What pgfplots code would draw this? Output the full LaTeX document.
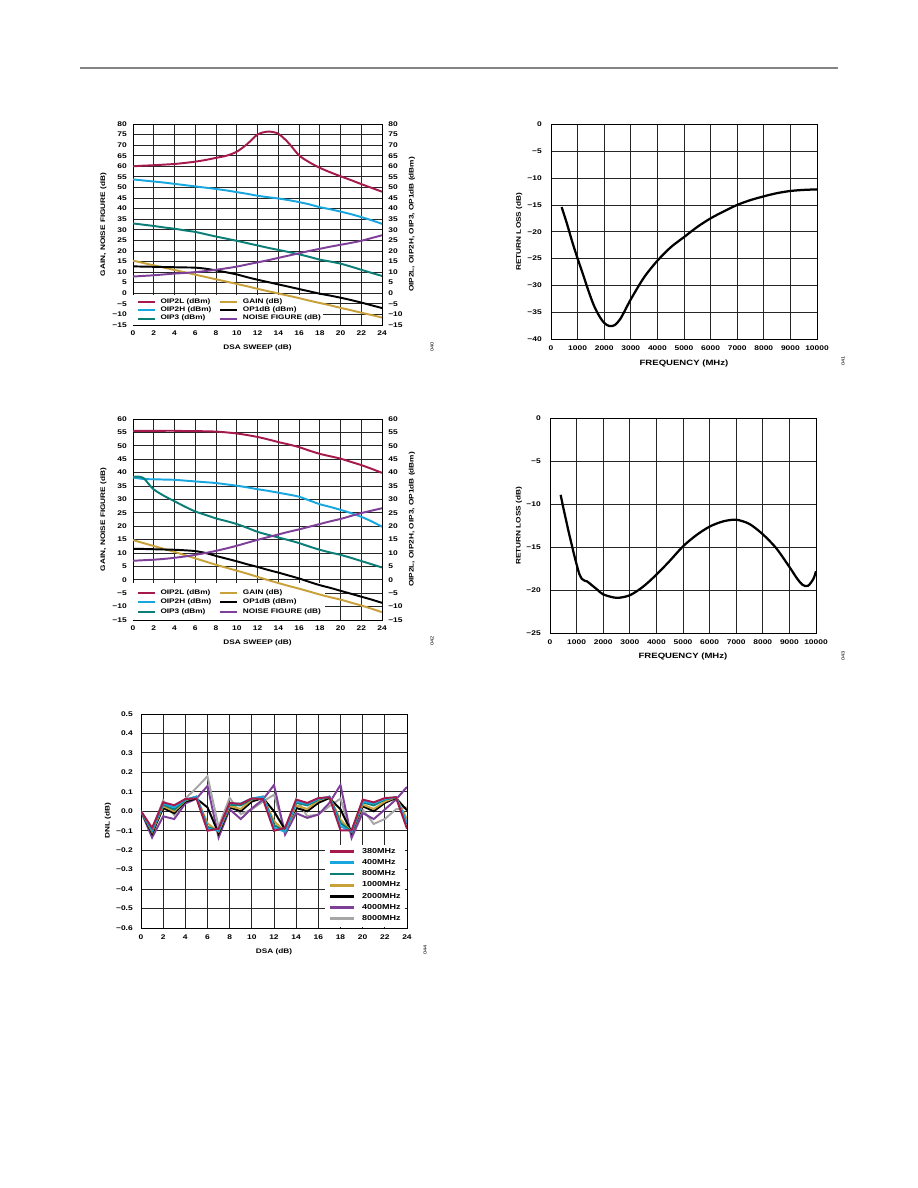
\documentclass[border=0pt]{standalone}
\usepackage{pgfplots}
\pgfplotsset{compat=1.18}
\usepackage{pgfplotstable}
\usepackage{fontspec}
\newfontfamily\cf{Liberation Sans}[FakeStretch=1.25]

\newcommand\tickf{\cf\bfseries\fontsize{4.5}{5}\selectfont}
\newcommand\labf{\cf\bfseries\fontsize{4.4}{5}\selectfont}
\newcommand\labfb{\cf\bfseries\fontsize{5.1}{6}\selectfont}
\newcommand\legf{\cf\bfseries\fontsize{4.4}{5}\selectfont}
\newcommand\legfb{\cf\bfseries\fontsize{4.8}{5.5}\selectfont}

\definecolor{cOIPL}{HTML}{A6194C}
\definecolor{cOIPH}{HTML}{18A6DF}
\definecolor{cOIPT}{HTML}{0B7E76}
\definecolor{cGain}{HTML}{C9A13A}
\definecolor{cNF}{HTML}{7E3F98}
\definecolor{cGrey}{HTML}{A6A6A6}
\definecolor{hdr}{HTML}{858585}

% DSA sweep, first operating point
\pgfplotstableread{
x  oipl  oiph  oipt  gain   opdb  nf
0  60.0  53.8  33.0  15.4   12.7   7.9
1  60.3  53.3  32.4  14.3   12.6   8.2
2  60.5  52.8  31.8  13.2   12.5   8.5
3  60.8  52.3  31.1  12.1   12.4   8.9
4  61.1  51.7  30.5  11.0   12.3   9.3
5  61.6  51.1  29.7   9.9   12.2   9.6
6  62.2  50.5  29.0   8.8   12.1  10.0
7  63.0  49.9  27.9   7.7   11.6  10.5
8  64.0  49.3  26.8   6.6   10.8  11.1
9  65.0  48.6  25.8   5.5    9.9  11.8
10 66.9  47.8  24.8   4.4    8.9  12.6
11 70.5  47.0  23.7   3.3    7.6  13.6
12 75.0  46.1  22.6   2.1    6.4  14.6
13 76.4  45.4  21.5   1.0    5.3  15.6
14 75.4  44.8  20.5  -0.1    4.2  16.7
15 71.0  44.0  19.5  -1.2    3.1  17.8
16 65.2  43.1  18.4  -2.3    2.0  18.9
17 61.9  42.0  17.2  -3.5    0.9  20.0
18 59.3  40.7  15.9  -4.6   -0.2  21.0
19 57.2  39.7  15.0  -5.7   -1.1  22.0
20 55.3  38.6  14.0  -6.9   -2.1  22.9
21 53.5  37.4  12.6  -8.0   -3.2  23.8
22 51.6  36.0  11.1  -9.2   -4.4  24.8
23 49.8  34.5   9.6 -10.3   -5.7  26.1
24 48.0  32.8   8.2 -11.5   -7.0  27.4
}\tabA

% DSA sweep, second operating point
\pgfplotstableread{
x  oipl  oiph  gain   opdb  nf
0  55.6  38.2  14.8  11.5   7.1
1  55.6  37.6  13.7  11.5   7.3
2  55.6  37.5  12.6  11.4   7.5
3  55.6  37.4  11.5  11.3   7.8
4  55.6  37.3  10.4  11.2   8.2
5  55.5  37.0   9.2  11.0   8.7
6  55.5  36.7   8.0  10.7   9.3
7  55.4  36.4   6.8  10.0  10.0
8  55.3  36.1   5.6   8.9  10.8
9  55.0  35.6   4.5   7.9  11.7
10 54.6  35.1   3.4   6.9  12.7
11 54.0  34.5   2.3   5.8  13.8
12 53.3  33.8   1.1   4.8  14.9
13 52.4  33.2  -0.1   3.7  15.9
14 51.4  32.5  -1.2   2.7  16.9
15 50.5  31.8  -2.3   1.6  17.9
16 49.5  31.0  -3.3   0.5  18.8
17 48.2  29.6  -4.4  -0.8  19.8
18 47.0  28.2  -5.5  -2.0  20.8
19 46.1  27.2  -6.5  -3.0  21.8
20 45.2  26.1  -7.4  -4.1  22.7
21 44.0  24.9  -8.5  -5.2  23.8
22 42.8  23.5  -9.6  -6.3  24.9
23 41.4  21.8 -10.8  -7.4  25.8
24 39.9  19.8 -12.1  -8.6  26.7
}\tabB

\pgfplotstableread{
x    oipt
0    38.4
0.5  38.5
1    38.0
1.5  35.8
2    33.7
3    31.3
4    29.3
5    27.3
6    25.5
7    24.2
8    22.9
9    21.9
10   20.8
11   19.4
12   17.9
13   16.8
14   15.8
15   14.8
16   13.7
17   12.4
18   11.2
19   10.2
20    9.3
21    8.2
22    7.0
23    5.8
24    4.6
}\tabBt

% Return loss, first port
\pgfplotstableread{
f     rl
400   -15.4
600   -18.5
800   -21.9
1000  -25.0
1200  -27.9
1400  -30.9
1600  -33.6
1800  -35.6
2000  -37.0
2200  -37.6
2400  -37.4
2600  -36.3
2800  -34.5
3000  -32.6
3500  -28.5
4000  -25.4
4500  -22.9
5000  -21.0
5500  -19.1
6000  -17.5
6500  -16.2
7000  -15.0
7500  -14.1
8000  -13.4
8500  -12.8
9000  -12.4
9500  -12.2
10000 -12.1
}\tabC

% Return loss, second port
\pgfplotstableread{
f     rl
400   -8.9
500   -10.4
600   -11.8
700   -13.2
800   -14.5
900   -15.8
1000  -17.0
1100  -18.1
1200  -18.7
1300  -18.9
1400  -19.0
1600  -19.5
1800  -20.0
2000  -20.5
2500  -20.9
3000  -20.6
3500  -19.6
4000  -18.2
4500  -16.6
5000  -14.9
5500  -13.6
6000  -12.6
6500  -12.0
7000  -11.8
7500  -12.3
8000  -13.5
8500  -15.1
9000  -17.3
9300  -18.7
9500  -19.4
9700  -19.5
9900  -18.7
10000 -17.8
}\tabD

% DNL versus DSA setting
\pgfplotstableread{
x  a      b      c      d      e      g      h
0  0      0      0      0      0      0      0
1  -0.085 -0.095 -0.100 -0.105 -0.115 -0.135 -0.095
2  0.046  0.040  0.034  0.026  0.017  -0.026 0.056
3  0.031  0.020  0.009  0.000  -0.010 -0.040 -0.020
4  0.063  0.060  0.058  0.055  0.050  0.040  0.065
5  0.066  0.075  0.075  0.075  0.065  0.065  0.120
6  -0.100 -0.090 -0.080 -0.062 0.020  0.130  0.180
7  -0.090 -0.100 -0.100 -0.105 -0.115 -0.135 -0.080
8  0.043  0.040  0.034  0.026  0.020  0.010  0.070
9  0.038  0.040  0.030  0.012  0.000  -0.040 -0.015
10 0.066  0.066  0.063  0.060  0.050  0.015  0.010
11 0.063  0.075  0.075  0.075  0.068  0.060  0.050
12 -0.100 -0.085 -0.070 -0.050 0.000  0.135  0.085
13 -0.085 -0.105 -0.105 -0.105 -0.095 -0.120 -0.100
14 0.060  0.050  0.045  0.030  0.017  -0.010 0.063
15 0.043  0.038  0.030  0.012  0.000  -0.034 -0.025
16 0.068  0.063  0.060  0.055  0.043  -0.017 -0.017
17 0.072  0.075  0.075  0.075  0.068  0.043  0.026
18 -0.098 -0.077 -0.060 -0.043 0.010  0.135  0.065
19 -0.098 -0.105 -0.105 -0.105 -0.110 -0.137 -0.120
20 0.060  0.050  0.046  0.034  0.026  -0.009 0.009
21 0.046  0.040  0.030  0.012  0.000  -0.040 -0.065
22 0.068  0.063  0.060  0.050  0.043  0.009  -0.040
23 0.072  0.072  0.072  0.072  0.068  0.060  0.010
24 -0.090 -0.060 -0.065 -0.040 0.005  0.125  0.020
}\tabE

\pgfplotsset{
  base/.style={
    scale only axis, anchor=south west,
    grid=major, major grid style={line width=0.55pt, black!85},
    axis line style={line width=0.6pt, black},
    major tick length=0pt,
    /pgf/number format/assume math mode=true,
    /pgf/number format/1000 sep={},
    scaled x ticks=false, scaled y ticks=false,
    tick label style={font=\tickf, inner sep=0pt},
    legend style={font=\legf, fill=white, draw=none},
    legend cell align=left,
  },
  dsa/.style={
    base, width=166pt, height=134pt, xmin=0, xmax=24,
    xtick={0,2,...,24},
    xticklabel style={yshift=-3.8pt},
    yticklabel style={xshift=-4pt},
    xlabel={DSA SWEEP (dB)},
    ylabel={GAIN, NOISE FIGURE (dB)},
    every axis y label/.style={at={(axis description cs:-0.119,0.5)}, rotate=90, anchor=center, font=\labf},
    legend columns=2,
    legend style={at={(axis description cs:0,0)}, anchor=south west, fill=none,
      inner xsep=2.2pt, inner ysep=2.4pt, row sep=0pt,
      nodes={inner sep=0.55pt},
      /tikz/every odd column/.append style={column sep=2.5pt},
      /tikz/every even column/.append style={column sep=4.5pt}},
    legend image code/.code={\draw[##1, line width=1.4pt] (0pt,0pt) -- (11.5pt,0pt);},
  },
  dsaright/.style={
    base, width=166pt, height=134pt, xmin=0, xmax=24,
    axis x line=none, axis y line*=right, grid=none,
    yticklabel style={xshift=4pt},
    ylabel={OIP2L, OIP2H, OIP3, OP1dB (dBm)},
    every axis y label/.style={at={(axis description cs:1.1205,0.5)}, rotate=90, anchor=center, font=\labf},
  },
  rloss/.style={
    base, width=177.33pt, height=143pt, xmin=0, xmax=10000,
    xtick={0,1000,...,10000},
    xticklabel style={yshift=-4.5pt},
    yticklabel style={xshift=-6pt},
    xlabel={FREQUENCY (MHz)}, ylabel={RETURN LOSS (dB)},
  },
  rlcurve/.style={black, no markers, smooth, line width=1.5pt},
  curve/.style={#1, smooth, line width=1.3pt},
  keybg/.style={draw=none, fill=white, forget plot},
}

\begin{document}
\begin{tikzpicture}
\path[use as bounding box] (0,0) rectangle (612pt,792pt);
\draw[line width=0.9pt, hdr] (53.3pt,746.7pt) -- (558.7pt,746.7pt);

%--------------------------------------------------------- DSA sweep 1
\begin{axis}[dsa, at={(88.67pt,575.33pt)}, ymin=-15, ymax=80,
  ytick={-15,-10,...,80},
  yticklabels={−15,−10,−5,0,5,10,15,20,25,30,35,40,45,50,55,60,65,70,75,80},
  every axis x label/.style={at={(axis description cs:0.5,-0.114)}, anchor=center, font=\labf},
  legend style={row sep=-0.25pt, yshift=-1.2pt}]
% blank panel behind the key, under the curves
\addplot[keybg] coordinates {(0,-15) (18.35,-15) (18.35,-0.7) (0,-0.7)} -- cycle;
\addplot[curve=cOIPL] table[x=x, y=oipl] {\tabA};
\addlegendentry{OIP2L (dBm)}
\addplot[curve=cGain] table[x=x, y=gain] {\tabA};
\addlegendentry{GAIN (dB)}
\addplot[curve=cOIPH] table[x=x, y=oiph] {\tabA};
\addlegendentry{OIP2H (dBm)}
\addplot[curve=black] table[x=x, y=opdb] {\tabA};
\addlegendentry{OP1dB (dBm)}
\addplot[curve=cOIPT] table[x=x, y=oipt] {\tabA};
\addlegendentry{OIP3 (dBm)}
\addplot[curve=cNF] table[x=x, y=nf] {\tabA};
\addlegendentry{NOISE FIGURE (dB)}
\end{axis}
\begin{axis}[dsaright, at={(88.67pt,575.33pt)}, ymin=-15, ymax=80,
  ytick={-15,-10,...,80},
  yticklabels={−15,−10,−5,0,5,10,15,20,25,30,35,40,45,50,55,60,65,70,75,80}]
\addplot[draw=none] coordinates {(0,0)};
\end{axis}

%--------------------------------------------------------- return loss 1
\begin{axis}[rloss, at={(367.33pt,566pt)}, ymin=-40, ymax=0,
  ytick={-40,-35,...,0},
  yticklabels={−40,−35,−30,−25,−20,−15,−10,−5,0},
  every axis x label/.style={at={(axis description cs:0.5,-0.116)}, anchor=center, font=\labfb},
  every axis y label/.style={at={(axis description cs:-0.120,0.5)}, rotate=90, anchor=center, font=\labf}]
\addplot[rlcurve] table[x=f, y=rl] {\tabC};
\end{axis}

%--------------------------------------------------------- DSA sweep 2
\begin{axis}[dsa, at={(88.67pt,378.67pt)}, ymin=-15, ymax=60,
  ytick={-15,-10,...,60},
  yticklabels={−15,−10,−5,0,5,10,15,20,25,30,35,40,45,50,55,60},
  every axis x label/.style={at={(axis description cs:0.5,-0.114)}, anchor=center, font=\labf},
  legend style={row sep=0.5pt}]
\addplot[keybg] coordinates {(0,-15) (18.5,-15) (18.5,-1.2) (0,-1.2)} -- cycle;
\addplot[curve=cOIPL] table[x=x, y=oipl] {\tabB};
\addlegendentry{OIP2L (dBm)}
\addplot[curve=cGain] table[x=x, y=gain] {\tabB};
\addlegendentry{GAIN (dB)}
\addplot[curve=cOIPH] table[x=x, y=oiph] {\tabB};
\addlegendentry{OIP2H (dBm)}
\addplot[curve=black] table[x=x, y=opdb] {\tabB};
\addlegendentry{OP1dB (dBm)}
\addplot[curve=cOIPT] table[x=x, y=oipt] {\tabBt};
\addlegendentry{OIP3 (dBm)}
\addplot[curve=cNF] table[x=x, y=nf] {\tabB};
\addlegendentry{NOISE FIGURE (dB)}
\end{axis}
\begin{axis}[dsaright, at={(88.67pt,378.67pt)}, ymin=-15, ymax=60,
  ytick={-15,-10,...,60},
  yticklabels={−15,−10,−5,0,5,10,15,20,25,30,35,40,45,50,55,60}]
\addplot[draw=none] coordinates {(0,0)};
\end{axis}

%--------------------------------------------------------- return loss 2
\begin{axis}[rloss, at={(366.67pt,370pt)}, ymin=-25, ymax=0,
  ytick={-25,-20,...,0},
  yticklabels={−25,−20,−15,−10,−5,0},
  every axis x label/.style={at={(axis description cs:0.5,-0.112)}, anchor=center, font=\labfb},
  every axis y label/.style={at={(axis description cs:-0.1165,0.5)}, rotate=90, anchor=center, font=\labf}]
\addplot[rlcurve] table[x=f, y=rl] {\tabD};
\end{axis}

%--------------------------------------------------------- DNL
\begin{axis}[base, at={(94pt,173.33pt)}, width=177.33pt, height=142.67pt,
  xmin=0, xmax=24, ymin=-0.6, ymax=0.5,
  xtick={0,2,...,24},
  ytick={-0.6,-0.5,-0.4,-0.3,-0.2,-0.1,0,0.1,0.2,0.3,0.4,0.5},
  yticklabels={−0.6,−0.5,−0.4,−0.3,−0.2,−0.1,0.0,0.1,0.2,0.3,0.4,0.5},
  xticklabel style={yshift=-4.5pt},
  yticklabel style={xshift=-5.3pt},
  xlabel={DSA (dB)}, ylabel={DNL (dB)},
  every axis x label/.style={at={(axis description cs:0.5,-0.111)}, anchor=center, font=\labf},
  every axis y label/.style={at={(axis description cs:-0.124,0.5)}, rotate=90, anchor=center, font=\labf},
  reverse legend,
  legend style={font=\legfb, at={(axis description cs:1,0)}, anchor=south east,
    xshift=-1pt, yshift=0.8pt, inner xsep=2.5pt, inner ysep=2pt, row sep=1.6pt,
    nodes={inner sep=0.5pt},
    /tikz/every odd column/.append style={column sep=4pt}},
  legend image code/.code={\draw[#1, line width=1.9pt] (0pt,0.3pt) -- (16pt,0.3pt);}]
\addplot[cGrey, line width=1.3pt] table[x=x, y=h] {\tabE};
\addlegendentry{8000MHz}
\addplot[cNF, line width=1.3pt] table[x=x, y=g] {\tabE};
\addlegendentry{4000MHz}
\addplot[black, line width=1.3pt] table[x=x, y=e] {\tabE};
\addlegendentry{2000MHz}
\addplot[cGain, line width=1.3pt] table[x=x, y=d] {\tabE};
\addlegendentry{1000MHz}
\addplot[cOIPT, line width=1.3pt] table[x=x, y=c] {\tabE};
\addlegendentry{800MHz}
\addplot[cOIPH, line width=1.3pt] table[x=x, y=b] {\tabE};
\addlegendentry{400MHz}
\addplot[cOIPL, line width=1.3pt] table[x=x, y=a] {\tabE};
\addlegendentry{380MHz}
\end{axis}

% figure reference numbers
\node[rotate=90, font=\cf\fontsize{3}{3}\selectfont] at (288pt,560.7pt) {040};
\node[rotate=90, font=\cf\fontsize{3}{3}\selectfont] at (562pt,551.3pt) {041};
\node[rotate=90, font=\cf\fontsize{3}{3}\selectfont] at (288pt,364.7pt) {042};
\node[rotate=90, font=\cf\fontsize{3}{3}\selectfont] at (562pt,354.7pt) {043};
\node[rotate=90, font=\cf\fontsize{3}{3}\selectfont] at (283.3pt,158.7pt) {044};
\end{tikzpicture}
\end{document}
